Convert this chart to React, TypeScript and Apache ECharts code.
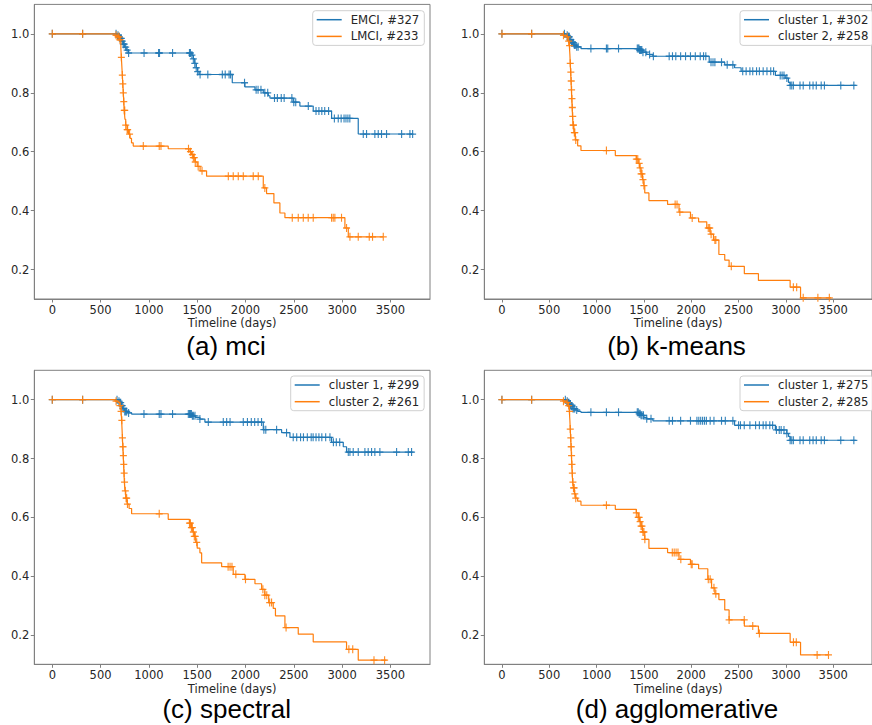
import React, { useEffect, useRef } from "react";
import * as echarts from "echarts";

// ---------- tick labels ----------
const X_TICKS = [0, 500, 1000, 1500, 2000, 2500, 3000, 3500];
const Y_TICKS = [0.2, 0.4, 0.6, 0.8, 1.0];

// ---------- (a) mci ----------
const mciEmciCurve = [[0,1],[670,0.995],[690,0.99],[705,0.985],[720,0.975],[735,0.965],[750,0.955],[765,0.945],[790,0.935],[1445,0.928],[1460,0.915],[1475,0.9],[1490,0.885],[1505,0.872],[1520,0.862],[1863,0.834],[1994,0.82],[2098,0.81],[2184,0.8],[2236,0.79],[2253,0.782],[2494,0.768],[2563,0.755],[2701,0.738],[2891,0.713],[3167,0.66],[3730,0.66]];
const mciEmciCensor = [0,314,660,680,695,705,715,725,735,745,760,775,790,950,1100,1110,1245,1420,1430,1445,1460,1475,1490,1505,1530,1610,1760,1790,1830,1845,1990,2110,2130,2160,2200,2230,2300,2330,2370,2400,2480,2500,2520,2650,2730,2760,2790,2820,2860,2920,2960,2990,3020,3040,3060,3080,3219,3253,3339,3374,3408,3460,3616,3702,3730];
const mciLmciCurve = [[0,1],[650,0.995],[680,0.99],[700,0.98],[710,0.95],[715,0.92],[720,0.89],[725,0.86],[730,0.83],[735,0.8],[740,0.77],[745,0.74],[752,0.71],[760,0.69],[775,0.675],[790,0.66],[805,0.645],[820,0.63],[838,0.619],[1200,0.61],[1415,0.6],[1440,0.59],[1460,0.58],[1480,0.565],[1500,0.55],[1530,0.535],[1597,0.517],[2184,0.477],[2218,0.458],[2294,0.426],[2356,0.392],[2408,0.376],[3029,0.341],[3064,0.311],[3426,0.311]];
const mciLmciCensor = [0,314,660,680,690,700,715,725,730,735,740,745,750,760,775,780,800,942,1107,1125,1410,1430,1450,1460,1470,1480,1510,1550,1822,1873,1925,1977,2080,2132,2200,2484,2546,2598,2649,2701,2891,2908,2925,2994,3046,3081,3167,3281,3315,3426];

// ---------- (b) k-means ----------
const kmC1Curve = [[0,1],[680,0.995],[697,0.99],[715,0.98],[735,0.97],[760,0.962],[790,0.956],[835,0.95],[1450,0.945],[1480,0.938],[1530,0.93],[1595,0.924],[2190,0.904],[2354,0.895],[2458,0.885],[2527,0.873],[2889,0.859],[2993,0.85],[3027,0.835],[3045,0.825],[3740,0.825]];
const kmC1Censor = [0,314,660,690,700,705,712,720,728,735,745,755,765,775,790,805,940,1104,1118,1232,1430,1440,1448,1455,1462,1470,1478,1490,1520,1560,1600,1767,1802,1837,1888,1940,1992,2043,2095,2130,2154,2209,2230,2250,2320,2380,2440,2544,2580,2620,2650,2690,2720,2760,2800,2840,2870,2940,2960,2980,3010,3045,3062,3079,3149,3183,3252,3287,3321,3373,3407,3580,3718];
const kmC2Curve = [[0,1],[645,0.995],[680,0.99],[700,0.975],[712,0.96],[718,0.93],[722,0.9],[726,0.87],[730,0.84],[734,0.81],[738,0.78],[742,0.75],[746,0.72],[752,0.69],[760,0.665],[775,0.64],[800,0.62],[835,0.604],[1198,0.587],[1420,0.575],[1440,0.56],[1455,0.545],[1470,0.525],[1485,0.505],[1500,0.485],[1509,0.46],[1553,0.434],[1750,0.421],[1871,0.395],[1992,0.375],[2078,0.362],[2164,0.341],[2200,0.32],[2235,0.3],[2292,0.251],[2354,0.232],[2400,0.211],[2561,0.186],[2710,0.163],[3045,0.14],[3155,0.104],[3476,0.104]];
const kmC2Censor = [0,314,650,690,705,715,722,728,732,736,740,744,748,752,756,765,770,780,1104,1420,1435,1450,1460,1470,1480,1490,1500,1830,1850,1880,2010,2180,2195,2210,2250,2260,2423,3079,3114,3183,3338,3459];

// ---------- (c) spectral ----------
const spC1Curve = [[0,1],[683,0.995],[700,0.99],[715,0.98],[730,0.97],[750,0.96],[780,0.955],[821,0.951],[1450,0.945],[1480,0.94],[1528,0.934],[1580,0.924],[2184,0.898],[2374,0.888],[2460,0.872],[2891,0.855],[3012,0.84],[3046,0.822],[3740,0.822]];
const spC1Censor = [0,314,670,690,700,708,716,724,732,740,750,760,770,790,949,1107,1125,1245,1408,1420,1430,1440,1450,1460,1477,1528,1615,1770,1805,1840,1977,2020,2060,2095,2130,2166,2190,2210,2322,2425,2494,2530,2570,2600,2640,2680,2700,2730,2760,2790,2830,2874,2910,2940,2975,3064,3081,3115,3167,3236,3270,3305,3339,3391,3564,3685,3719];
const spC2Curve = [[0,1],[649,0.995],[680,0.99],[700,0.98],[712,0.96],[718,0.93],[722,0.9],[726,0.87],[730,0.84],[734,0.81],[738,0.78],[742,0.75],[746,0.72],[752,0.69],[760,0.665],[775,0.645],[795,0.63],[821,0.612],[1200,0.593],[1420,0.58],[1440,0.565],[1455,0.55],[1470,0.535],[1485,0.515],[1500,0.495],[1528,0.479],[1546,0.445],[1753,0.432],[1873,0.406],[1994,0.389],[2098,0.374],[2167,0.355],[2200,0.335],[2240,0.31],[2287,0.29],[2310,0.265],[2408,0.225],[2546,0.2025],[2701,0.176],[3046,0.151],[3167,0.114],[3460,0.114]];
const spC2Censor = [0,314,660,700,712,720,726,732,736,740,744,748,756,764,770,778,1107,1420,1430,1440,1450,1460,1470,1480,1495,1820,1840,1860,1900,2000,2180,2200,2220,2250,2270,2420,3070,3110,3330,3440];

// ---------- (d) agglomerative ----------
const agC1Curve = [[0,1],[680,0.995],[700,0.99],[715,0.985],[730,0.978],[750,0.97],[775,0.965],[800,0.96],[835,0.957],[1450,0.952],[1470,0.947],[1500,0.94],[1530,0.935],[1595,0.928],[2458,0.913],[2889,0.897],[3010,0.885],[3027,0.875],[3045,0.862],[3740,0.862]];
const agC1Censor = [0,314,670,690,700,708,716,724,732,740,750,760,770,790,940,1104,1232,1430,1440,1450,1460,1470,1480,1495,1530,1575,1767,1802,1888,1992,2060,2080,2100,2120,2140,2160,2200,2240,2320,2360,2440,2500,2520,2560,2620,2680,2720,2760,2790,2830,2860,2900,2930,2950,2980,3010,3045,3062,3079,3149,3183,3252,3287,3321,3373,3407,3580,3718];
const agC2Curve = [[0,1],[645,0.995],[680,0.99],[700,0.98],[712,0.96],[718,0.93],[722,0.9],[726,0.87],[730,0.84],[734,0.81],[738,0.78],[742,0.75],[748,0.72],[755,0.7],[765,0.68],[780,0.665],[800,0.655],[835,0.641],[1198,0.627],[1420,0.615],[1440,0.6],[1455,0.585],[1470,0.57],[1485,0.55],[1509,0.525],[1553,0.494],[1750,0.48],[1871,0.457],[1992,0.44],[2078,0.425],[2175,0.389],[2215,0.36],[2250,0.34],[2292,0.32],[2354,0.285],[2400,0.251],[2561,0.23],[2710,0.205],[3045,0.175],[3155,0.132],[3450,0.132]];
const agC2Censor = [0,314,650,690,705,715,722,728,732,736,740,744,750,756,764,770,780,1104,1420,1440,1450,1460,1470,1480,1490,1500,1510,1800,1820,1840,1860,1890,2000,2010,2180,2200,2240,2260,2400,2560,2650,2720,3080,3110,3330,3450];

// ---------- legends / captions ----------
const panelCaptions = ["(a) mci", "(b) k-means", "(c) spectral", "(d) agglomerative"];
const panelNames = [
  ["EMCI, #327", "LMCI, #233"],
  ["cluster 1, #302", "cluster 2, #258"],
  ["cluster 1, #299", "cluster 2, #261"],
  ["cluster 1, #275", "cluster 2, #285"],
];

const BLUE = "#1f77b4";
const ORANGE = "#ff7f0e";
const PLUS = "path://M-0.08,-0.5H0.08V-0.08H0.5V0.08H0.08V0.5H-0.08V0.08H-0.5V-0.08H-0.08Z";
const TICK_FONT = "DejaVu Sans";

function stepAt(curve: number[][], t: number): number {
  let v = curve[0][1];
  for (const [x, y] of curve) {
    if (x <= t) v = y;
    else break;
  }
  return v;
}

export default function App() {
  const ref = useRef<HTMLDivElement>(null);
  useEffect(() => {
    document.body.style.margin = "0";
    const chart = echarts.init(ref.current!, null, { renderer: "svg" });

    const panels = [
      { curves: [mciEmciCurve, mciLmciCurve], censors: [mciEmciCensor, mciLmciCensor] },
      { curves: [kmC1Curve, kmC2Curve], censors: [kmC1Censor, kmC2Censor] },
      { curves: [spC1Curve, spC2Curve], censors: [spC1Censor, spC2Censor] },
      { curves: [agC1Curve, agC2Curve], censors: [agC1Censor, agC2Censor] },
    ];
    const layout = [
      { left: 34.3, top: 4.4, height: 294.6, legendLeft: 312.7, legendTop: 10.7, capX: 226, capY: 346 },
      { left: 484.3, top: 4.4, height: 294.6, legendLeft: 740, legendTop: 10.7, capX: 676.5, capY: 346 },
      { left: 34.3, top: 370.3, height: 294, legendLeft: 290.7, legendTop: 376, capX: 226.7, capY: 709 },
      { left: 484.3, top: 370.3, height: 294, legendLeft: 740, legendTop: 376, capX: 677, capY: 709 },
    ];

    const grid: any[] = [];
    const xAxis: any[] = [];
    const yAxis: any[] = [];
    const series: any[] = [];
    const legend: any[] = [];
    const graphic: any[] = [];
    const colors = [BLUE, ORANGE];

    panels.forEach((p, i) => {
      const L = layout[i];
      grid.push({
        left: L.left, top: L.top, width: 395.7, height: L.height,
        show: true, borderColor: "#808080", borderWidth: 1, backgroundColor: "transparent",
      });
      xAxis.push({
        type: "value", gridIndex: i, min: -186.2, max: 3909.8,
        axisLine: { show: true, onZero: false, lineStyle: { color: "#808080", width: 1 } },
        axisTick: { show: true, customValues: X_TICKS, length: 3.5, lineStyle: { color: "#808080" } },
        axisLabel: {
          customValues: X_TICKS, margin: 5, fontSize: 11.5, color: "#262626", fontFamily: TICK_FONT,
          formatter: (v: number) => String(Math.round(v)),
        },
        splitLine: { show: false },
        name: "Timeline (days)", nameLocation: "middle", nameGap: 16,
        nameTextStyle: { fontSize: 11.5, color: "#262626", fontFamily: TICK_FONT, lineHeight: 13 },
      });
      yAxis.push({
        type: "value", gridIndex: i, min: 0.1, max: 1.1,
        axisLine: { show: true, onZero: false, lineStyle: { color: "#808080", width: 1 } },
        axisTick: { show: true, customValues: Y_TICKS, length: 3.5, lineStyle: { color: "#808080" } },
        axisLabel: {
          customValues: Y_TICKS, margin: 5, fontSize: 11.5, color: "#262626", fontFamily: TICK_FONT,
          formatter: (v: number) => v.toFixed(1),
        },
        splitLine: { show: false },
      });
      p.curves.forEach((curve, k) => {
        series.push({
          type: "line", name: panelNames[i][k], xAxisIndex: i, yAxisIndex: i,
          data: curve, step: "end", showSymbol: false, symbol: "none",
          color: colors[k], lineStyle: { width: 1.2, color: colors[k] },
          z: 2 + k * 2,
        });
        series.push({
          type: "scatter", name: `censor-${i}-${k}`, xAxisIndex: i, yAxisIndex: i,
          data: p.censors[k].map((t) => [t, stepAt(curve, t)]),
          symbol: PLUS, symbolSize: [7, 8],
          itemStyle: { color: colors[k], opacity: 0.9 },
          z: 3 + k * 2,
        });
      });
      legend.push({
        data: panelNames[i].map((n) => ({ name: n })),
        orient: "vertical", left: L.legendLeft, top: L.legendTop,
        padding: [2, 5, 2, 4], itemGap: 2.7, itemWidth: 25, itemHeight: 1.5,
        icon: "rect",
        borderColor: "#d0d0d0", borderWidth: 1, borderRadius: 3,
        backgroundColor: "rgba(255,255,255,0.85)",
        textStyle: { fontSize: 11.7, color: "#262626", fontFamily: TICK_FONT, padding: [0, 0, 0, 4], lineHeight: 14 },
        selectedMode: false,
      });
      graphic.push({
        type: "text", x: L.capX, y: L.capY,
        style: {
          text: panelCaptions[i], fontSize: 26, fontFamily: "Liberation Sans", lineHeight: 26,
          fill: "#000", align: "center", verticalAlign: "middle",
        },
      });
    });

    chart.setOption({
      animation: false,
      backgroundColor: "#fff",
      grid, xAxis, yAxis, series, legend, graphic,
    });
    return () => chart.dispose();
  }, []);
  return (
    <div
      ref={ref}
      style={{ position: "absolute", left: 0, top: 0, width: 872, height: 725 }}
    />
  );
}
